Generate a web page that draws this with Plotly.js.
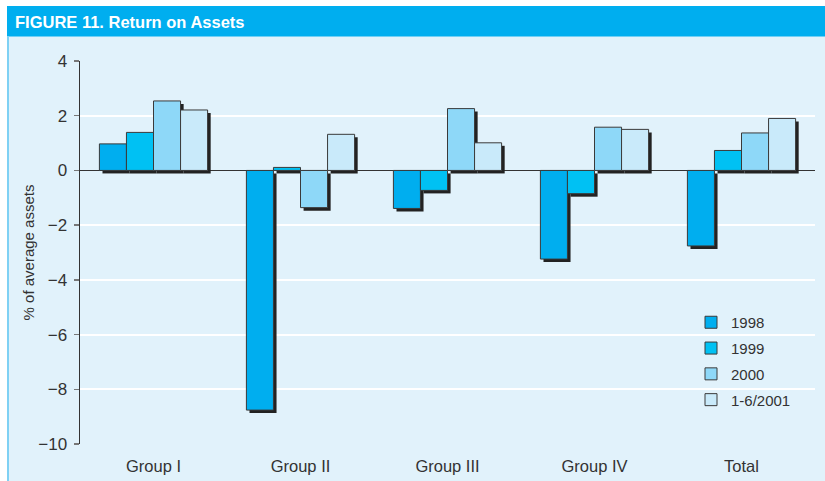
<!DOCTYPE html>
<html><head><meta charset="utf-8">
<script src="https://cdn.plot.ly/plotly-3.0.1.min.js"></script>
<style>html,body{margin:0;padding:0;background:#fff;}#chart{width:825px;height:481px;}</style>
</head><body><div id="chart"></div>
<script>
const categories = ["Group I", "Group II", "Group III", "Group IV", "Total"];
const seriesNames = ["1998", "1999", "2000", "1-6/2001"];
const v1998 = [0.97, -8.76, -1.39, -3.24, -2.76];
const v1999 = [1.39, 0.11, -0.73, -0.85, 0.73];
const v2000 = [2.54, -1.36, 2.26, 1.58, 1.37];
const v2001 = [2.21, 1.32, 1.01, 1.50, 1.90];
const yTicks = [-10, -8, -6, -4, -2, 0, 2, 4];

const seriesValues = [v1998, v1999, v2000, v2001];
const colors = ["#00AEEF", "#00C1F3", "#8ED8F8", "#C9EAFA"];
const barW = 0.184;
const offsets = [-2 * barW, -barW, 0, barW];
const shX = 0.021, shY = 0.11;

const traces = [];
seriesValues.forEach((vals, i) => {
  traces.push({
    type: 'bar', x: categories, y: vals, base: vals.map(() => -shY),
    offset: offsets[i] + shX, width: barW,
    marker: {color: '#222222', line: {width: 0}},
    showlegend: false, hoverinfo: 'skip'
  });
});
seriesValues.forEach((vals, i) => {
  traces.push({
    type: 'bar', name: seriesNames[i], x: categories, y: vals,
    offset: offsets[i], width: barW, legendgroup: 'g' + i,
    marker: {color: colors[i], line: {color: '#3a3a3a', width: 1}}
  });
});

const L = 80, R = 815, T = 61, B = 444, W = 825, H = 481;
const px = p => (p - L) / (R - L);
const py = p => (B - p) / (B - T);

const layout = {
  width: W, height: H,
  margin: {l: L, r: W - R, t: T, b: H - B, pad: 0},
  paper_bgcolor: '#ffffff',
  plot_bgcolor: 'rgba(0,0,0,0)',
  barmode: 'overlay',
  font: {family: 'Liberation Sans, Arial, sans-serif', color: '#333333'},
  title: {text: '<b>FIGURE 11. Return on Assets</b>', xref: 'container', yref: 'container',
          x: 15 / W, xanchor: 'left', y: 1 - 22 / H, yanchor: 'middle',
          font: {size: 16.5, color: '#ffffff', family: 'Liberation Sans, Arial, sans-serif'}},
  shapes: [
    {type: 'rect', xref: 'paper', yref: 'paper', layer: 'below',
     x0: px(7), x1: px(826), y0: py(482), y1: py(36), fillcolor: '#E1F2FB', line: {width: 0}},
    {type: 'rect', xref: 'paper', yref: 'paper', layer: 'below',
     x0: px(7), x1: px(826), y0: py(36.5), y1: py(6), fillcolor: '#00AEEF', line: {width: 0}},
    {type: 'line', xref: 'paper', yref: 'paper', layer: 'below',
     x0: px(8), x1: px(8), y0: py(482), y1: py(36), line: {color: '#7FD1F4', width: 2}}
  ],
  xaxis: {type: 'category', range: [-0.5, 4.5], showgrid: false, zeroline: false, showline: false,
          ticks: 'outside', ticklen: 7, tickcolor: 'rgba(0,0,0,0)',
          tickfont: {size: 16.5, color: '#333333'}, fixedrange: true},
  xaxis2: {overlaying: 'x', anchor: 'free', position: 10 / 14, range: [-0.5, 4.5],
           tickvals: [0.5, 1.5, 2.5, 3.5, 4.5], ticks: 'outside', ticklen: 8, tickwidth: 1.5,
           tickcolor: '#777777', showticklabels: false, showgrid: false, zeroline: false, showline: false},
  yaxis: {range: [-10, 4], tickvals: yTicks, ticks: 'outside', ticklen: 5, tickcolor: '#777777',
          tickwidth: 1.5, showline: true, linecolor: '#333333', linewidth: 1.5,
          ticklabelstandoff: 3,
          gridcolor: '#ffffff', gridwidth: 2, zeroline: true, zerolinecolor: '#333333', zerolinewidth: 1.5,
          tickfont: {size: 17, color: '#333333'},
          title: {text: '% of average assets', font: {size: 15, color: '#333333'}, standoff: 0}},
  legend: {x: px(691), xanchor: 'left', y: py(306), yanchor: 'top', bgcolor: 'rgba(0,0,0,0)',
           font: {size: 15, color: '#333333'}, traceorder: 'grouped', tracegroupgap: 3.3},
  showlegend: true
};
Plotly.newPlot('chart', traces, layout, {staticPlot: true});
</script></body></html>
